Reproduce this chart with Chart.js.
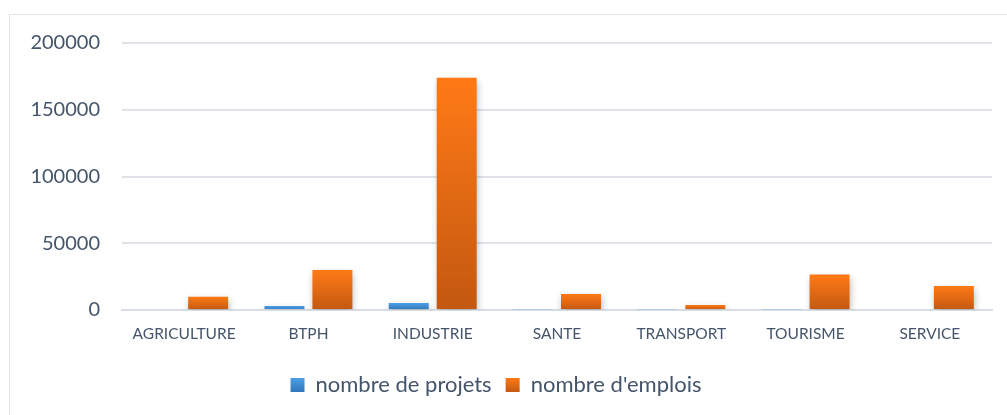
<!DOCTYPE html>
<html><head><meta charset="utf-8">
<script src="https://cdn.jsdelivr.net/npm/chart.js@4"></script>
<style>
html,body{margin:0;padding:0;background:#fff;width:1007px;height:415px;overflow:hidden;}
#frame{position:absolute;left:9px;top:14px;width:1100px;height:500px;border:1px solid #dfe3e8;box-sizing:border-box;}
#c{position:absolute;left:0;top:0;}
</style></head>
<body>
<div id="frame"></div>
<canvas id="c" width="1007" height="415"></canvas>
<script>
const categories = ["AGRICULTURE","BTPH","INDUSTRIE","SANTE","TRANSPORT","TOURISME","SERVICE"];
const projets = [700, 3000, 5200, 600, 500, 600, 800];
const emplois = [10000, 30000, 174000, 12000, 3800, 26500, 18000];
const yTicks = [0, 50000, 100000, 150000, 200000];

const FONT = "Lato, 'Open Sans', sans-serif";
const TEXT = "#44546A";

function grad(ctx, top, bottom){
  const c = ctx.chart;
  if(!c.chartArea || !c.scales.y) return top;
  const v = ctx.raw;
  const y1 = c.scales.y.getPixelForValue(v);
  const y0 = c.scales.y.getPixelForValue(0);
  if(!isFinite(y1) || Math.abs(y0-y1) < 2) return top;
  const g = c.ctx.createLinearGradient(0, y1, 0, y0);
  g.addColorStop(0, top);
  g.addColorStop(1, bottom);
  return g;
}

const shadow = {
  id:'shadow',
  beforeDatasetsDraw(chart){
    const ctx = chart.ctx; ctx.save();
    ctx.shadowColor='rgba(0,0,0,0.28)'; ctx.shadowBlur=7; ctx.shadowOffsetX=1; ctx.shadowOffsetY=3;
  },
  afterDatasetsDraw(chart){ chart.ctx.restore(); }
};

new Chart(document.getElementById('c'), {
  type:'bar',
  data:{
    labels:categories,
    datasets:[
      {label:'nombre de projets', data:projets,
       backgroundColor:(ctx)=>grad(ctx,'#4d9fe6','#2f76b8'),
       categoryPercentage:0.772, barPercentage:0.833},
      {label:"nombre d'emplois", data:emplois,
       backgroundColor:(ctx)=>grad(ctx,'#ff7a16','#c35811'),
       categoryPercentage:0.772, barPercentage:0.833}
    ]
  },
  options:{
    responsive:false, animation:false, devicePixelRatio:1,
    layout:{padding:{left:0,right:15,top:43,bottom:9}},
    plugins:{
      tooltip:{enabled:false},
      legend:{position:'bottom',
        labels:{font:{family:FONT,size:22},color:TEXT,boxWidth:14,boxHeight:14,padding:14,
          generateLabels(chart){
            const cols=[['#4d9fe6','#2f76b8'],['#ff7a16','#c35811']];
            return chart.data.datasets.map((d,i)=>{
              const g=chart.ctx.createLinearGradient(0,378,0,392);
              g.addColorStop(0,cols[i][0]); g.addColorStop(1,cols[i][1]);
              return {text:d.label,fillStyle:g,strokeStyle:'rgba(0,0,0,0)',lineWidth:0,datasetIndex:i,fontColor:TEXT};
            });
          }}}
    },
    scales:{
      x:{
        grid:{display:false,drawTicks:false},
        border:{display:true,color:'#d9dee5',width:2},
        ticks:{font:{family:FONT,size:15.5},color:TEXT,padding:15,maxRotation:0,autoSkip:false},
        afterFit(s){ s.height = 50; }
      },
      y:{
        min:0,max:200000,
        afterBuildTicks(s){ s.ticks = yTicks.map(v=>({value:v})); },
        grid:{color:'#dfe3e8',lineWidth:2,drawTicks:false},
        border:{display:false},
        ticks:{font:{family:FONT,size:20},color:TEXT,padding:22,callback:(v)=>String(v)},
        afterFit(s){ s.width = 122; }
      }
    }
  },
  plugins:[shadow]
});
</script>
</body></html>
